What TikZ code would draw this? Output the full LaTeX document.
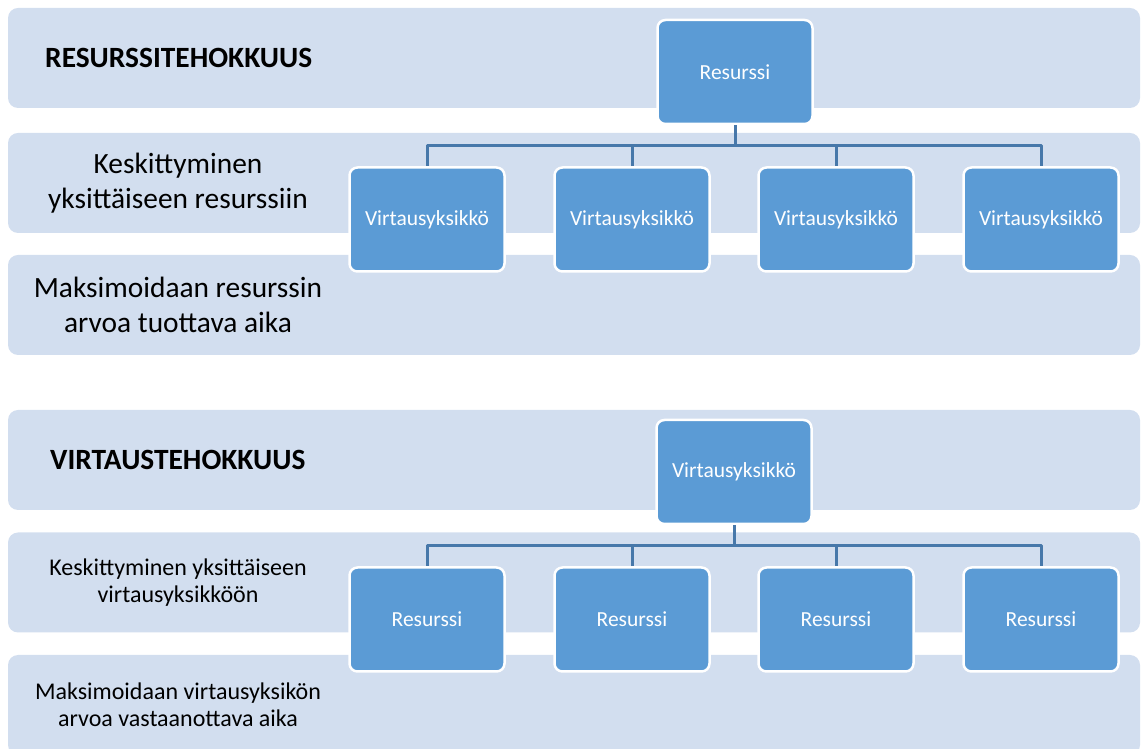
\documentclass[tikz,border=0pt]{standalone}
\usepackage{fontspec}
\setmainfont{Carlito}
\definecolor{bandfill}{RGB}{210,222,239}
\definecolor{boxfill}{RGB}{91,155,213}
\definecolor{linkcol}{RGB}{71,120,170}
\tikzset{
  band/.style={fill=bandfill,draw=none,rounded corners=10bp,minimum width=1132bp,minimum height=100bp,inner sep=0pt},
  unit/.style={fill=boxfill,draw=white,line width=2.5bp,rounded corners=8bp,minimum width=155bp,minimum height=104bp,inner sep=0pt,text=white,font=\fontsize{21.5bp}{25bp}\selectfont},
  head/.style={anchor=west,inner sep=0pt,font=\fontsize{29.4bp}{34bp}\selectfont\bfseries},
  bigtxt/.style={align=center,inner sep=0pt,font=\fontsize{29.4bp}{35bp}\selectfont},
  smalltxt/.style={align=center,inner sep=0pt,font=\fontsize{24bp}{27bp}\selectfont},
  link/.style={draw=linkcol,line width=3bp},
}
\begin{document}
\begin{tikzpicture}[line join=bevel,]
\useasboundingbox (0bp,0bp) rectangle (1141bp,749bp);
\clip (0bp,0bp) rectangle (1141bp,749bp);
%% resurssitehokkuus
\node (band_1) at (574bp,691bp) [band] {};
\node (band_2) at (574bp,566bp) [band] {};
\node (band_3) at (574bp,444bp) [band] {};
\node (text_1) at (45bp,691bp) [head] {RESURSSITEHOKKUUS};
\node (text_2) at (178bp,566bp) [bigtxt] {Keskittyminen\\yksittäiseen resurssiin};
\node (text_3) at (178bp,444bp) [bigtxt] {Maksimoidaan resurssin\\arvoa tuottava aika};
\node (res_0) at (735bp,677bp) [unit] {Resurssi};
\node (res_1) at (427bp,529.5bp) [unit] {Virtausyksikkö};
\node (res_2) at (632bp,529.5bp) [unit] {Virtausyksikkö};
\node (res_3) at (836bp,529.5bp) [unit] {Virtausyksikkö};
\node (res_4) at (1041bp,529.5bp) [unit] {Virtausyksikkö};
\coordinate (bus_res) at (735bp,603bp);
\foreach \i in {1,...,4}
  \draw [link] (res_0) -- (bus_res) -| (res_\i);
%% virtaustehokkuus
\node (band_4) at (574bp,289bp) [band] {};
\node (band_5) at (574bp,166.5bp) [band] {};
\node (band_6) at (574bp,44bp) [band] {};
\node (text_4) at (50bp,289bp) [head] {VIRTAUSTEHOKKUUS};
\node (text_5) at (178bp,166.5bp) [smalltxt] {Keskittyminen yksittäiseen\\virtausyksikköön};
\node (text_6) at (178bp,44bp) [smalltxt] {Maksimoidaan virtausyksikön\\arvoa vastaanottava aika};
\node (vir_0) at (734bp,277bp) [unit] {Virtausyksikkö};
\node (vir_1) at (427bp,129.5bp) [unit] {Resurssi};
\node (vir_2) at (632bp,129.5bp) [unit] {Resurssi};
\node (vir_3) at (836bp,129.5bp) [unit] {Resurssi};
\node (vir_4) at (1041bp,129.5bp) [unit] {Resurssi};
\coordinate (bus_vir) at (734bp,203bp);
\foreach \i in {1,...,4}
  \draw [link] (vir_0) -- (bus_vir) -| (vir_\i);
%
\end{tikzpicture}
\end{document}
